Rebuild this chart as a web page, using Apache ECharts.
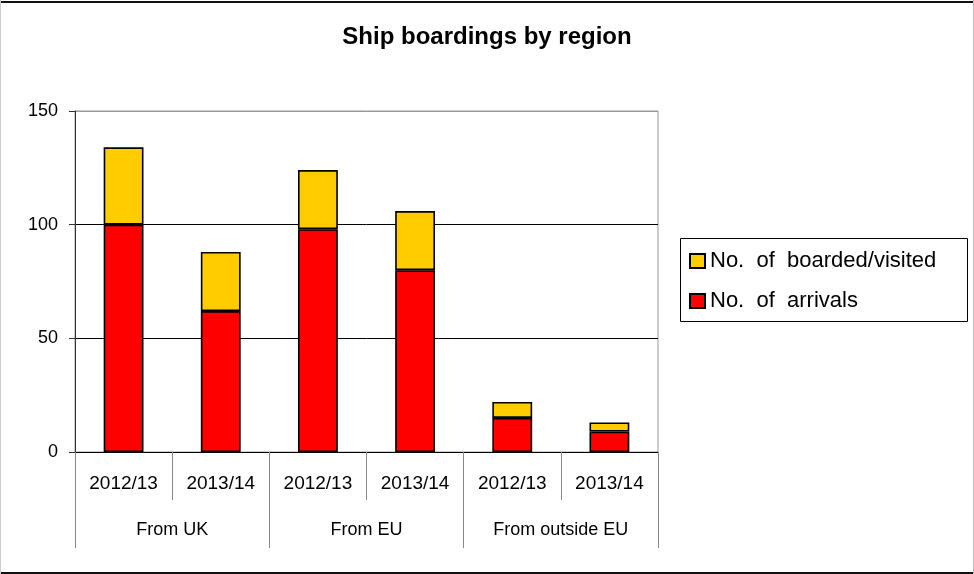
<!DOCTYPE html>
<html>
<head>
<meta charset="utf-8">
<script src="https://cdn.jsdelivr.net/npm/echarts@6/dist/echarts.min.js"></script>
<style>
  html, body { margin: 0; padding: 0; background: #fff; }
  #chart { width: 974px; height: 574px; }
</style>
</head>
<body>
<div id="chart"></div>
<script>
// Fiscal years shown within each region
const years = ['2012/13', '2013/14', '2012/13', '2013/14', '2012/13', '2013/14'];
// Region groups along the lower axis row
const regions = ['From UK', 'From EU', 'From outside EU'];
// Stacked values per bar (bottom: arrivals, top: boarded/visited)
const arrivals = [100, 62, 98, 80, 15, 9];
const boarded = [34, 26, 26, 26, 7, 4];
const yTicks = [0, 50, 100, 150];

const FONT = '"Liberation Sans", Arial, sans-serif';
const chart = echarts.init(document.getElementById('chart'), null, { renderer: 'canvas' });

chart.setOption({
  backgroundColor: '#fff',
  animation: false,
  title: {
    text: 'Ship boardings by region',
    left: 'center',
    top: 25,
    padding: 0,
    textStyle: { fontFamily: FONT, fontSize: 24, fontWeight: 'bold', color: '#000' }
  },
  legend: {
    orient: 'vertical',
    left: 680,
    top: 238,
    padding: [12, 10, 10, 9],
    itemGap: 18,
    itemWidth: 15,
    itemHeight: 14,
    icon: 'rect',
    data: ['No.  of  boarded/visited', 'No.  of  arrivals'],
    textStyle: { fontFamily: FONT, fontSize: 22, color: '#000' }
  },
  grid: {
    left: 75, right: 316, top: 111, bottom: 122,
    show: true, borderColor: '#999', borderWidth: 1, backgroundColor: 'transparent'
  },
  xAxis: [
    {
      type: 'category',
      data: years,
      position: 'bottom',
      axisLine: { show: true, lineStyle: { color: '#000', width: 1 } },
      axisTick: { show: true, interval: 0, length: 48, lineStyle: { color: '#888' } },
      axisLabel: { interval: 0, margin: 22, fontFamily: FONT, fontSize: 19, color: '#000' }
    },
    {
      type: 'category',
      data: regions,
      position: 'bottom',
      axisLine: { show: false },
      axisTick: { show: true, interval: 0, length: 96, lineStyle: { color: '#888' } },
      axisLabel: { interval: 0, margin: 69, fontFamily: FONT, fontSize: 18, color: '#000' }
    }
  ],
  yAxis: {
    type: 'value',
    min: yTicks[0],
    max: yTicks[yTicks.length - 1],
    interval: 50,
    axisLine: { show: true, lineStyle: { color: '#333', width: 1 } },
    axisTick: { show: true, inside: false, length: 6, lineStyle: { color: '#333' } },
    axisLabel: { margin: 17, fontFamily: FONT, fontSize: 18, color: '#000' },
    splitLine: { show: true, lineStyle: { color: ['#000', '#000', '#000', '#999'], width: 1 } }
  },
  series: [
    {
      name: 'No.  of  arrivals',
      type: 'bar',
      stack: 'total',
      xAxisIndex: 0,
      barWidth: '41%',
      data: arrivals,
      itemStyle: { color: '#FF0000', borderColor: '#000', borderWidth: 1.6 }
    },
    {
      name: 'No.  of  boarded/visited',
      type: 'bar',
      stack: 'total',
      xAxisIndex: 0,
      barWidth: '41%',
      data: boarded,
      itemStyle: { color: '#FFCC00', borderColor: '#000', borderWidth: 1.6 }
    }
  ],
  graphic: [
    // legend frame
    { type: 'rect', z: 0, shape: { x: 680.5, y: 238.5, width: 287, height: 83 },
      style: { fill: '#fff', stroke: '#000', lineWidth: 1 } },
    // outer chart frame
    { type: 'line', z: 10, shape: { x1: 0, y1: 2, x2: 974, y2: 2 }, style: { stroke: '#111', lineWidth: 2 } },
    { type: 'line', z: 10, shape: { x1: 0, y1: 573, x2: 974, y2: 573 }, style: { stroke: '#111', lineWidth: 2 } },
    { type: 'line', z: 10, shape: { x1: 0.5, y1: 0, x2: 0.5, y2: 574 }, style: { stroke: '#ccc', lineWidth: 1 } },
    { type: 'line', z: 10, shape: { x1: 973.5, y1: 0, x2: 973.5, y2: 574 }, style: { stroke: '#bbb', lineWidth: 1 } }
  ]
});
</script>
</body>
</html>
